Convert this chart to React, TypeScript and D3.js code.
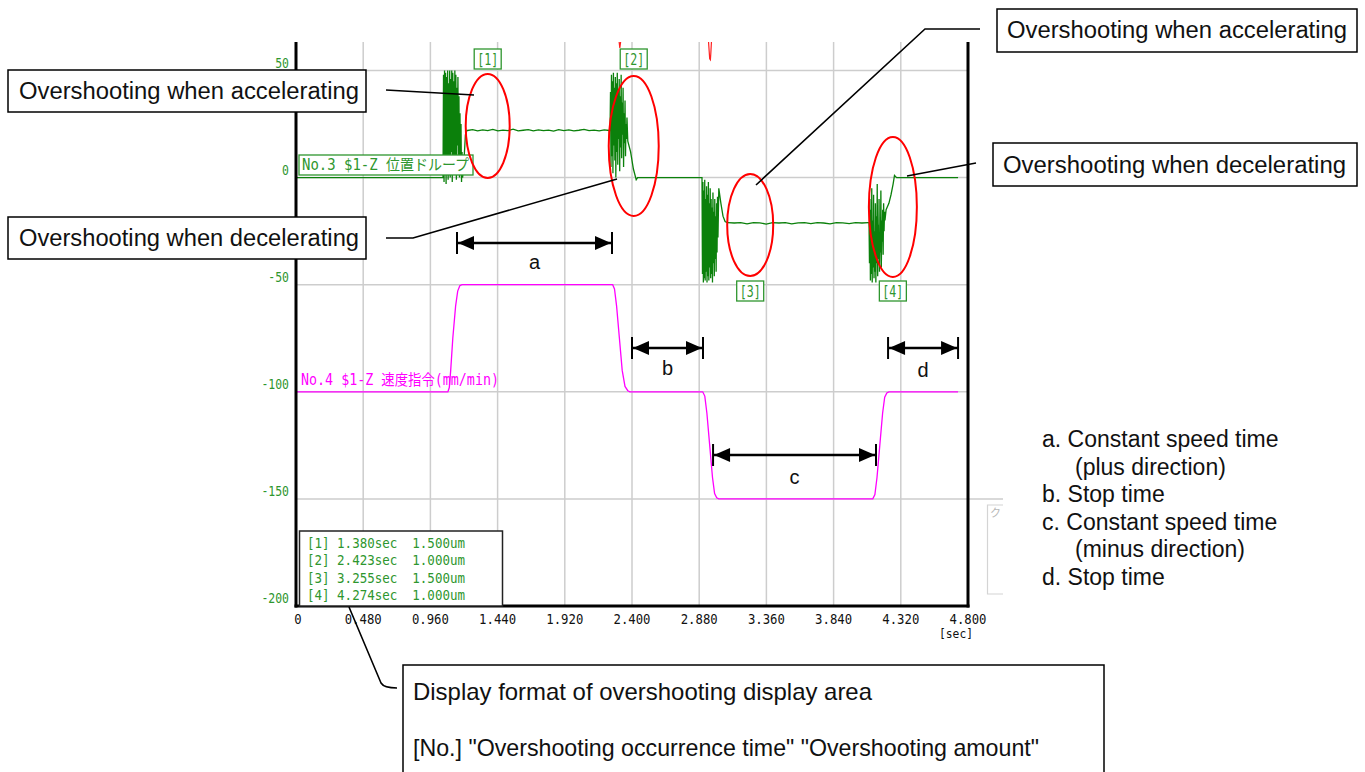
import React from 'react';
import * as d3 from 'd3';

// ---------- data ----------
const xTicks = [0, 0.48, 0.96, 1.44, 1.92, 2.4, 2.88, 3.36, 3.84, 4.32, 4.8];
const yTicks = [50, 0, -50, -100, -150, -200];
const gridY = [50, 0, -50, -100, -150];

// No.4 speed command (displayed on same scale)
const speedT = [0, 1.085, 1.095, 1.105, 1.12, 1.14, 1.155, 1.17, 1.185, 2.262, 2.275, 2.29, 2.31, 2.33, 2.35, 2.37, 2.385, 2.905, 2.92, 2.935, 2.955, 2.975, 2.99, 3.005, 3.02, 4.12, 4.135, 4.15, 4.17, 4.19, 4.205, 4.22, 4.235, 4.729];
const speedV = [-100, -100, -98, -90, -75, -60, -53, -50.5, -50, -50, -52, -60, -75, -90, -97.5, -99.5, -100, -100, -102, -110, -125, -140, -147.5, -149.5, -150, -150, -148, -140, -125, -110, -102.5, -100.5, -100, -100];

// No.3 position droop pieces
const droopStart: [number, number][] = [[0, 0], [1.048, 0]];
const burst1 = { t0: 1.05, t1: 1.186, v: [0, 48, -2, 50, 3, 49, -3, 47, 5, 50, -1, 44, 8, 50, 0, 46, 12, 50, -2, 49, 6, 45, 2, 50, 10, 48, -1, 42, 15, 47, 4, 38, 0, 30, 8, 25, -2, 12] };
const rise1: [number, number][] = [[1.19, 0], [1.2, 8], [1.21, 20], [1.22, 22]];
const level1 = { t0: 1.225, t1: 2.238, v: [22, 22.4, 21.8, 22.3, 21.9, 22.5, 21.8, 22.2, 21.9, 22.6, 21.8, 22.1, 22.4, 21.8, 22.3, 21.9, 22.2, 21.7, 22.4, 21.9, 22.3, 21.8, 22.1, 22.5, 21.9, 22.2, 21.8, 22.3, 22] };
const burst2 = { t0: 2.243, t1: 2.364, v: [22, 40, 5, 48, 10, 45, 2, 49, 15, 42, 8, 47, 0, 44, 12, 49, 6, 40, 18, 46, 3, 38, 14, 48, 9, 35, 20, 42, 5, 30, 16, 36, 10, 25, 18, 28] };
const decay2: [number, number][] = [[2.37, 17], [2.39, 12], [2.41, 4], [2.43, -1], [2.44, 0], [2.895, 0]];
const burst3 = { t0: 2.9, t1: 3.014, v: [0, -45, -2, -49, -6, -47, -1, -48, -10, -44, -4, -49, -8, -46, -2, -48, -12, -42, -5, -47, -10, -45, -14, -49, -7, -40, -16, -46, -10, -38, -18, -44, -12, -35, -9, -28] };
const decay3: [number, number][] = [[3.02, -5], [3.035, -12], [3.05, -18], [3.065, -20.5], [3.08, -21]];
const level2 = { t0: 3.085, t1: 4.088, v: [-21, -21.2, -21, -21.6, -21, -21.1, -21.7, -21, -21.2, -21, -21.6, -21.1, -21, -21.5, -21, -21.2, -21.6, -21, -21.1, -21.5, -21, -21.2, -21] };
const burst4 = { t0: 4.093, t1: 4.207, v: [-21, -40, -10, -48, -15, -45, -5, -49, -20, -42, -8, -47, -25, -44, -12, -49, -18, -40, -3, -46, -22, -38, -10, -44, -28, -35, -6, -42, -20, -30, -15, -36, -12, -25, -16, -20] };
const rise4: [number, number][] = [[4.215, -15], [4.235, -12], [4.25, -8], [4.265, -3], [4.275, 1], [4.29, 0], [4.729, 0]];

// red trace peeking at the top
const redA: [number, number][] = [[2.307, 64], [2.313, 60.5], [2.32, 64]];
const redB: [number, number][] = [[2.946, 64], [2.955, 55.5], [2.96, 55], [2.963, 58], [2.968, 64]];

// overshoot detection
const overshootNo = ['[1]', '[2]', '[3]', '[4]'];
const overshootTime = [1.38, 2.423, 3.255, 4.274];
const overshootAmount = [1.5, 1.0, 1.5, 1.0];

// interval annotations
const intervalNames = ['a', 'b', 'c', 'd'];
const intervalStart = [1.15, 2.4, 2.979, 4.229];
const intervalEnd = [2.257, 2.907, 4.143, 4.729];

const listLines = ['a. Constant speed time', '(plus direction)', 'b. Stop time', 'c. Constant speed time', '(minus direction)', 'd. Stop time'];

// ---------- helpers ----------
function expand(b: { t0: number; t1: number; v: number[] }): [number, number][] {
  const idx = d3.scaleLinear().domain([0, b.v.length - 1]).range([b.t0, b.t1]);
  return b.v.map((v, i) => [idx(i), v] as [number, number]);
}

const MONO = "'DejaVu Sans Mono', 'Noto Sans CJK JP', monospace";
const SANS = "'Liberation Sans', Arial, sans-serif";
const GREEN_TXT = '#2e962e';

export default function App() {
  const x = d3.scaleLinear().domain([0, 4.8]).range([296, 968]);
  const y = d3.scaleLinear().domain([-200, 50]).range([606, 70.5]);
  const line = d3.line<[number, number]>().x(d => x(d[0])).y(d => y(d[1]));

  const droop: [number, number][] = [
    ...droopStart, ...expand(burst1), ...rise1, ...expand(level1), ...expand(burst2), ...decay2,
    ...expand(burst3), ...decay3, ...expand(level2), ...expand(burst4), ...rise4,
  ];
  const speed: [number, number][] = speedT.map((t, i) => [t, speedV[i]]);

  const top = 42;
  const bottom = 606;

  const boxes = [
    { x: 8, y: 70, w: 358, h: 42, text: 'Overshooting when accelerating', tx: 19, ty: 99, len: 340 },
    { x: 8, y: 217, w: 358, h: 42, text: 'Overshooting when decelerating', tx: 19, ty: 246, len: 340 },
    { x: 997, y: 9, w: 360, h: 43, text: 'Overshooting when accelerating', tx: 1007, ty: 38, len: 340 },
    { x: 993, y: 143, w: 364, h: 43, text: 'Overshooting when decelerating', tx: 1003, ty: 173, len: 343 },
  ];
  const leaders = [
    'M386,90 L474,95',
    'M386,238 L413,238 L617,179',
    'M980,29 L925,29 L756,185',
    'M907,176 L976,163',
    'M349,607 L381,683 Q384,688 397,688',
  ];
  const ellipseCy = [126, 146, 225, 207];
  const ellipseRx = [22, 25, 23, 24];
  const ellipseRy = [52, 70, 51, 70];
  const markerY = [49, 49, 281, 281];
  const intervalY = [243, 348, 455, 348];
  const intervalLabelY = [269, 375, 484, 377];
  const listX = [1042, 1075, 1042, 1042, 1075, 1042];

  return (
    <svg width={1365} height={772} style={{ position: 'absolute', left: 0, top: 0, background: '#fff' }}>
      <defs>
        <clipPath id="plot">
          <rect x={296} y={top} width={672} height={bottom - top} />
        </clipPath>
      </defs>
      <rect x={0} y={0} width={1365} height={772} fill="#fff" />

      {/* grid */}
      {xTicks.slice(1, -1).map(t => (
        <line key={'gx' + t} x1={x(t)} x2={x(t)} y1={top} y2={bottom} stroke="#cdcdcd" strokeWidth={1.5} />
      ))}
      {gridY.map(v => (
        <line key={'gy' + v} x1={296} x2={968} y1={y(v)} y2={y(v)} stroke="#cdcdcd" strokeWidth={1.5} />
      ))}
      <line x1={968} x2={1003} y1={y(-150)} y2={y(-150)} stroke="#cdcdcd" strokeWidth={1.5} />

      {/* traces */}
      <g clipPath="url(#plot)" fill="none">
        <path d={line(speed) || ''} stroke="#ff00ff" strokeWidth={1.3} />
        <path d={line(droop) || ''} stroke="#0b800b" strokeWidth={1.3} />
        <path d={line(redA) || ''} stroke="#ff2020" strokeWidth={1.2} />
        <path d={line(redB) || ''} stroke="#ff2020" strokeWidth={1.2} />
      </g>

      {/* axes */}
      <line x1={296} x2={296} y1={top} y2={bottom + 1.5} stroke="#000" strokeWidth={3} />
      <line x1={968} x2={968} y1={top} y2={bottom + 1.5} stroke="#000" strokeWidth={3} />
      <line x1={294.5} x2={969.5} y1={bottom} y2={bottom} stroke="#000" strokeWidth={3} />

      {yTicks.map(v => (
        <text key={'yt' + v} x={289} y={y(v) - 3} textAnchor="end" fontFamily={MONO} fontSize={14} fill={GREEN_TXT}
          textLength={String(v).length * 6.9} lengthAdjust="spacingAndGlyphs">{v}</text>
      ))}
      {xTicks.map(t => {
        const s = t === 0 ? '0' : t.toFixed(3);
        return (
          <text key={'xt' + t} x={t === 0 ? x(t) + 2 : x(t)} y={624} textAnchor="middle" fontFamily={MONO} fontSize={14} fill="#111"
            textLength={s.length * 7.4} lengthAdjust="spacingAndGlyphs">{s}</text>
        );
      })}
      <text x={973} y={638} textAnchor="end" fontFamily={MONO} fontSize={13} fill="#111" textLength={34} lengthAdjust="spacingAndGlyphs">[sec]</text>

      {/* series labels */}
      <rect x={299} y={155} width={174} height={20} fill="#fff" stroke={GREEN_TXT} strokeWidth={1.3} />
      <text x={302} y={170} fontFamily={MONO} fontSize={15} fill={GREEN_TXT} textLength={167} lengthAdjust="spacingAndGlyphs">No.3 $1-Z 位置ドループ</text>
      <text x={301} y={385} fontFamily={MONO} fontSize={15} fill="#ff00ff" textLength={198} lengthAdjust="spacingAndGlyphs">No.4 $1-Z 速度指令(mm/min)</text>

      {/* overshoot markers */}
      {overshootNo.map((n, i) => {
        const cx = x(overshootTime[i]) - 1.5;
        return (
          <g key={'m' + n}>
            <rect x={cx - 13.5} y={markerY[i]} width={27} height={20} fill="#fff" stroke={GREEN_TXT} strokeWidth={1.3} />
            <text x={cx} y={markerY[i] + 15.5} textAnchor="middle" fontFamily={MONO} fontSize={15} fill={GREEN_TXT}
              textLength={21} lengthAdjust="spacingAndGlyphs">{n}</text>
          </g>
        );
      })}

      {/* overshoot list */}
      <rect x={299.5} y={531} width={203} height={75} fill="#fff" stroke="#222" strokeWidth={1.5} />
      {overshootNo.map((n, i) => (
        <text key={'l' + n} x={307} y={547.5 + i * 17.5} fontFamily={MONO} fontSize={14} fill={GREEN_TXT} textLength={158} lengthAdjust="spacingAndGlyphs" xmlSpace="preserve">
          {`${n} ${overshootTime[i].toFixed(3)}sec  ${overshootAmount[i].toFixed(3)}um`}
        </text>
      ))}

      {/* red ellipses */}
      {overshootTime.map((t, i) => (
        <ellipse key={'e' + i} cx={x(t) - 1.5} cy={ellipseCy[i]} rx={ellipseRx[i]} ry={ellipseRy[i]} fill="none" stroke="#ff0000" strokeWidth={2} />
      ))}

      {/* interval arrows */}
      {intervalNames.map((n, i) => {
        const x1 = x(intervalStart[i]);
        const x2 = x(intervalEnd[i]);
        const yy = intervalY[i];
        return (
          <g key={'iv' + n}>
            <line x1={x1} x2={x2} y1={yy} y2={yy} stroke="#000" strokeWidth={2.5} />
            <line x1={x1} x2={x1} y1={yy - 11} y2={yy + 11} stroke="#000" strokeWidth={2} />
            <line x1={x2} x2={x2} y1={yy - 11} y2={yy + 11} stroke="#000" strokeWidth={2} />
            <path d={`M${x1 + 1},${yy} L${x1 + 17},${yy - 7} L${x1 + 17},${yy + 7} Z`} fill="#000" />
            <path d={`M${x2 - 1},${yy} L${x2 - 17},${yy - 7} L${x2 - 17},${yy + 7} Z`} fill="#000" />
            <text x={(x1 + x2) / 2} y={intervalLabelY[i]} textAnchor="middle" fontFamily={SANS} fontSize={20} fill="#111">{n}</text>
          </g>
        );
      })}

      {/* leader lines */}
      {leaders.map((d, i) => (
        <path key={'ld' + i} d={d} fill="none" stroke="#000" strokeWidth={1.6} />
      ))}

      {/* callout boxes */}
      {boxes.map((b, i) => (
        <g key={'bx' + i}>
          <rect x={b.x} y={b.y} width={b.w} height={b.h} fill="#fff" stroke="#000" strokeWidth={1.5} />
          <text x={b.tx} y={b.ty} fontFamily={SANS} fontSize={23} fill="#111" textLength={b.len} lengthAdjust="spacingAndGlyphs">{b.text}</text>
        </g>
      ))}

      {/* faint panel at right */}
      <path d="M1003,505 H987.5 V594 H1003" fill="none" stroke="#d4d4d4" strokeWidth={1.2} />
      <text x={990} y={517} fontFamily="'Noto Sans CJK JP', sans-serif" fontSize={11} fill="#b8b8b8">ク</text>

      {/* right list */}
      {listLines.map((s, i) => (
        <text key={'ll' + i} x={listX[i]} y={447 + i * 27.6} fontFamily={SANS} fontSize={23} fill="#111">{s}</text>
      ))}

      {/* bottom box */}
      <rect x={403} y={665} width={701} height={120} fill="#fff" stroke="#000" strokeWidth={1.5} />
      <text x={413} y={700} fontFamily={SANS} fontSize={24} fill="#111" textLength={459} lengthAdjust="spacingAndGlyphs">Display format of overshooting display area</text>
      <text x={413} y={756} fontFamily={SANS} fontSize={24} fill="#111" textLength={626} lengthAdjust="spacingAndGlyphs">[No.] "Overshooting occurrence time" "Overshooting amount"</text>
    </svg>
  );
}
